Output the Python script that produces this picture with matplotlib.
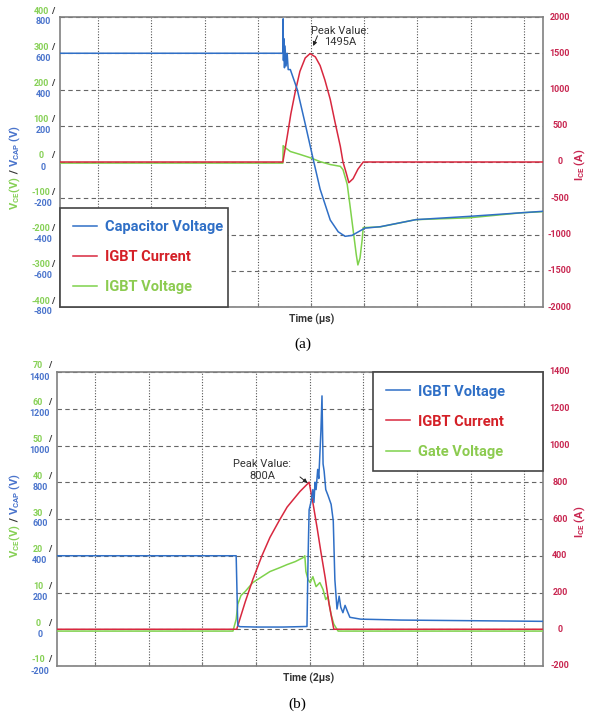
import matplotlib
matplotlib.use("Agg")
import matplotlib.pyplot as plt
import matplotlib.transforms as mtransforms

plt.rcParams['font.family'] = ['Roboto', 'DejaVu Sans']
plt.rcParams['mathtext.fontset'] = 'custom'
plt.rcParams['mathtext.rm'] = 'Roboto:bold'
plt.rcParams['mathtext.it'] = 'Roboto:bold'
plt.rcParams['mathtext.bf'] = 'Roboto:bold'

W, H = 589, 718

BLUE = '#2f6fc6'
RED = '#d8283f'
GREEN = '#7fd24c'
TXT_BLUE = '#4a74cc'
TXT_GREEN = '#86d055'
TXT_RED = '#c82650'
DARK = '#333333'

# ---------- panel (a): time in scope divisions ----------
a_cap_t = [-0.72, 3.47, 3.475, 3.48, 3.49, 3.50, 3.51, 3.53, 3.55, 3.57, 3.61, 3.74, 3.89, 4.04, 4.17,
           4.36, 4.51, 4.64, 4.77, 4.92, 5.01, 5.30, 5.97, 6.97, 7.96, 8.36]
a_cap_v = [600, 600, 790, 560, 680, 520, 640, 530, 600, 510, 510, 400, 210, 15, -150,
           -320, -385, -410, -405, -380, -365, -357, -318, -300, -280, -272]

a_cur_t = [-0.72, 3.47, 3.55, 3.62, 3.70, 3.79, 3.89, 3.98, 4.08, 4.17, 4.26, 4.36, 4.45, 4.55, 4.60,
           4.66, 4.71, 4.79, 4.88, 4.98, 8.36]
a_cur_i = [0, 0, 345, 665, 960, 1250, 1435, 1495, 1450, 1330, 1130, 865, 550, 215, 0,
           -150, -285, -230, -100, 0, 0]

a_vce_t = [-0.72, 3.47, 3.475, 3.51, 3.61, 3.79, 3.98, 4.17, 4.36, 4.55, 4.60, 4.68, 4.73, 4.79, 4.85,
           4.88, 4.92, 4.96, 4.98, 5.30, 5.97, 6.97, 7.96, 8.36]
a_vce_v = [-3, -3, 45, 40, 29, 21, 12, 1, -7, -12, -21, -62, -118, -187, -256,
           -284, -265, -215, -181, -179, -159, -154, -140, -137]

a_left_ticks = [-800, -600, -400, -200, 0, 200, 400, 600, 800]
a_green_ticks = [-400, -300, -200, -100, 0, 100, 200, 300, 400]
a_right_ticks = [-2000, -1500, -1000, -500, 0, 500, 1000, 1500, 2000]
a_labels = ["Capacitor Voltage", "IGBT Current", "IGBT Voltage"]

# ---------- panel (b) ----------
b_vce_t = [-0.71, 2.63, 2.66, 2.70, 3.0, 3.5, 3.95, 3.97, 3.99, 4.03, 4.06, 4.08, 4.10, 4.12, 4.15, 4.17,
           4.19, 4.21, 4.23, 4.25, 4.27, 4.30, 4.34, 4.40, 4.44, 4.47, 4.51, 4.55, 4.58, 4.62, 4.66,
           4.70, 4.75, 4.95, 5.7, 8.35]
b_vce_v = [400, 400, 20, 14, 12, 12, 15, 380, 650, 700, 760, 690, 800, 760, 870, 820,
           950, 1080, 1270, 900, 860, 760, 730, 680, 590, 270, 110, 180, 120, 90, 130,
           100, 65, 55, 50, 43]

b_cur_t = [-0.71, 2.64, 2.80, 2.94, 3.11, 3.26, 3.43, 3.58, 3.82, 3.99, 4.06, 4.14, 4.21, 4.29, 4.36,
           4.45, 8.35]
b_cur_i = [0, 0, 150, 270, 400, 500, 590, 665, 750, 800, 690, 550, 420, 280, 140, 0, 0]

b_gate_t = [-0.71, 2.57, 2.63, 2.66, 2.72, 2.80, 2.94, 3.11, 3.26, 3.45, 3.58, 3.73, 3.88, 3.91, 3.93,
            3.97, 4.01, 4.06, 4.12, 4.19, 4.25, 4.30, 4.34, 4.40, 4.45, 4.53, 8.35]
b_gate_v = [-0.5, -0.5, 2.7, 6.8, 9.2, 10.3, 12.7, 14.3, 15.7, 16.8, 17.6, 18.4, 19.5, 20.0, 15.7,
            13.5, 12.7, 14.3, 11.6, 12.7, 10.8, 8.1, 8.9, 4.0, 1.4, -0.5, -0.5]

b_left_ticks = [-200, 0, 200, 400, 600, 800, 1000, 1200, 1400]
b_green_ticks = [-10, 0, 10, 20, 30, 40, 50, 60, 70]
b_right_ticks = [-200, 0, 200, 400, 600, 800, 1000, 1200, 1400]
b_labels = ["IGBT Voltage", "IGBT Current", "Gate Voltage"]


def px_rect(x0, y0, x1, y1):
    return [x0 / W, 1 - y1 / H, (x1 - x0) / W, (y1 - y0) / H]


def make_panel(fig, rect, xlim, left_ticks, green_ticks, right_ticks):
    ax = fig.add_axes(rect)
    ax.set_xlim(xlim)
    ax.set_ylim(left_ticks[0], left_ticks[-1])
    ax.set_xticks(range(9))
    ax.set_yticks(left_ticks)
    ax.grid(axis='x', linestyle=(0, (1, 1.5)), color='#555555', lw=0.8)
    ax.grid(axis='y', linestyle=(0, (4, 3)), color='#666666', lw=0.8)
    ax.tick_params(axis='x', direction='in', length=3, color='#777777', labelbottom=False)
    ax.tick_params(axis='y', length=0, labelleft=False)
    for s in ax.spines.values():
        s.set_color('#808080')
        s.set_linewidth(1.2)

    ax_g = ax.twinx()
    ax_g.set_ylim(green_ticks[0], green_ticks[-1])
    ax_r = ax.twinx()
    ax_r.set_ylim(right_ticks[0], right_ticks[-1])
    ax_b = ax.twinx()
    ax_b.set_ylim(left_ticks[0], left_ticks[-1])
    for a in (ax_g, ax_r, ax_b):
        a.set_yticks([])
        a.set_xlim(xlim)
        for s in a.spines.values():
            s.set_visible(False)

    # tick texts: green / blue pair on the left, red on the right
    ytr = ax.get_yaxis_transform()
    for v, g in zip(left_ticks, green_ticks):
        ax.text(0, v, str(g), transform=mtransforms.offset_copy(ytr, fig=fig, x=-19, y=6, units='dots'),
                ha='center', va='center', color=TXT_GREEN, fontsize=6.5, fontweight='bold')
        ax.text(0, v, "/", transform=mtransforms.offset_copy(ytr, fig=fig, x=-7, y=6, units='dots'),
                ha='center', va='center', color=DARK, fontsize=6.5, fontweight='bold')
        ax.text(0, v, str(v), transform=mtransforms.offset_copy(ytr, fig=fig, x=-17, y=-5, units='dots'),
                ha='center', va='center', color=TXT_BLUE, fontsize=6.5, fontweight='bold')
    rtr = ax_r.get_yaxis_transform()
    for v in right_ticks:
        ax_r.text(1, v, str(v), transform=mtransforms.offset_copy(rtr, fig=fig, x=17, y=0, units='dots'),
                  ha='center', va='center', color=TXT_RED, fontsize=6.5, fontweight='bold')
    return ax, ax_g, ax_r, ax_b


def stacked_ylabel(fig, x_px, y_px_bottom, parts):
    renderer = fig.canvas.get_renderer()
    y = y_px_bottom
    for s, c in parts:
        t = fig.text(x_px / W, 1 - y / H, s, color=c, rotation=90, ha='center', va='bottom',
                     fontsize=8, fontweight='bold')
        y -= t.get_window_extent(renderer).height


def panel_legend(ax_b, handles, labels, **kw):
    leg = ax_b.legend(handles, labels, mode='expand', borderaxespad=0, fancybox=False, framealpha=1,
                      prop={'weight': 'bold', 'size': 10.5}, labelcolor=[BLUE, '#d42027', '#8ccb50'],
                      handlelength=1.65, handletextpad=0.55, labelspacing=1.1, borderpad=0.86, **kw)
    leg.get_frame().set_edgecolor('#444444')
    leg.get_frame().set_linewidth(1.2)
    return leg


fig = plt.figure(figsize=(W / 100, H / 100), dpi=100)
fig.patch.set_facecolor('white')

# ---------------- (a) ----------------
ax, ax_g, ax_r, ax_b = make_panel(fig, px_rect(60, 17, 543, 307), (-0.72, 8.36),
                                  a_left_ticks, a_green_ticks, a_right_ticks)
lg, = ax_g.plot(a_vce_t, a_vce_v, color=GREEN, lw=1.1)
lr, = ax_r.plot(a_cur_t, a_cur_i, color=RED, lw=1.1)
lb, = ax_b.plot(a_cap_t, a_cap_v, color=BLUE, lw=1.1)
panel_legend(ax_b, [lb, lr, lg], a_labels, loc='lower left', bbox_to_anchor=(0, 0, 168 / 483, 1))
ax_r.text(4.545, 1730, "Peak Value:\n1495A", ha='center', va='center', fontsize=8, color=DARK,
          linespacing=1.2)
ax_r.annotate('', xy=(4.04, 1600), xytext=(4.12, 1740),
              arrowprops=dict(arrowstyle='-|>', color='#222222', lw=0.7, mutation_scale=6,
                              shrinkA=0, shrinkB=0))
fig.text(312 / W, 1 - 319 / H, "Time (µs)", ha='center', va='center', fontsize=7.5,
         fontweight='bold', color='#333333')
fig.text(303 / W, 1 - 344 / H, "(a)", ha='center', va='center', fontsize=11,
         family='Liberation Serif')
fig.text(580 / W, 1 - 165 / H, r"I$_{\rm CE}$ (A)", rotation=90, ha='center', va='center',
         fontsize=8, fontweight='bold', color=TXT_RED)
stacked_ylabel(fig, 15, 210, [(r"V$_{\rm CE}$(V)", TXT_GREEN), (" / ", DARK),
                              (r"V$_{\rm CAP}$ (V)", TXT_BLUE)])

# ---------------- (b) ----------------
ax, ax_g, ax_r, ax_b = make_panel(fig, px_rect(57, 372, 543, 666), (-0.71, 8.35),
                                  b_left_ticks, b_green_ticks, b_right_ticks)
lg, = ax_g.plot(b_gate_t, b_gate_v, color=GREEN, lw=1.1)
lr, = ax_r.plot(b_cur_t, b_cur_i, color=RED, lw=1.1)
lb, = ax_b.plot(b_vce_t, b_vce_v, color=BLUE, lw=1.1)
panel_legend(ax_b, [lb, lr, lg], b_labels, loc='upper left',
             bbox_to_anchor=((373 - 57) / 486, 0, (543 - 373) / 486, 1))
ax_r.text(3.11, 868, "Peak Value:\n800A", ha='center', va='center', fontsize=8, color=DARK,
          linespacing=1.2)
ax_r.annotate('', xy=(3.96, 796), xytext=(3.82, 829),
              arrowprops=dict(arrowstyle='-|>', color='#222222', lw=0.7, mutation_scale=6,
                              shrinkA=0, shrinkB=0))
fig.text(309 / W, 1 - 678 / H, "Time (2µs)", ha='center', va='center', fontsize=7.5,
         fontweight='bold', color='#333333')
fig.text(297 / W, 1 - 704 / H, "(b)", ha='center', va='center', fontsize=11,
         family='Liberation Serif')
fig.text(580 / W, 1 - 522 / H, r"I$_{\rm CE}$ (A)", rotation=90, ha='center', va='center',
         fontsize=8, fontweight='bold', color=TXT_RED)
stacked_ylabel(fig, 15, 558, [(r"V$_{\rm CE}$(V)", TXT_GREEN), (" / ", DARK),
                              (r"V$_{\rm CAP}$ (V)", TXT_BLUE)])

fig.savefig("out.png", dpi=100)
